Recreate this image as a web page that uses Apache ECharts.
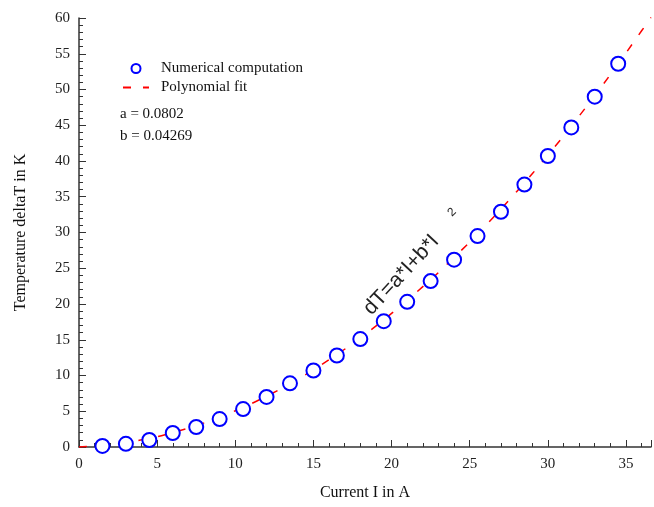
<!DOCTYPE html>
<html>
<head>
<meta charset="utf-8">
<script src="https://cdn.jsdelivr.net/npm/echarts@6/dist/echarts.min.js"></script>
<style>
  html, body { margin: 0; padding: 0; background: #fff; }
  #chart { width: 654px; height: 507px; }
</style>
</head>
<body>
<div id="chart"></div>
<script>
// measured points (numerical computation)
const current = [1.5, 3, 4.5, 6, 7.5, 9, 10.5, 12, 13.5, 15, 16.5, 18, 19.5, 21, 22.5, 24, 25.5, 27, 28.5, 30, 31.5, 33, 34.5]
const deltaT = [0.15, 0.45, 0.98, 1.96, 2.8, 3.9, 5.3, 7.0, 8.9, 10.7, 12.8, 15.1, 17.6, 20.3, 23.2, 26.2, 29.5, 32.9, 36.7, 40.7, 44.7, 49.0, 53.6]

// polynomial fit curve
const fitCurrent = [0, 2, 4, 6, 8, 10, 12, 14, 16, 18, 20, 22, 24, 26, 28, 30, 32, 34, 36, 36.6]
const fitDeltaT = [0, 0.33, 1.0, 2.02, 3.37, 5.07, 7.11, 9.49, 12.21, 15.27, 18.68, 22.43, 26.51, 30.94, 35.71, 40.83, 46.28, 52.08, 58.21, 60.1]

const xTicks = [0, 5, 10, 15, 20, 25, 30, 35]

const serif = 'Liberation Serif'

const chart = echarts.init(document.getElementById('chart'))

const option = {
  animation: false,
  backgroundColor: '#fff',
  grid: { left: 79, right: 0, top: 18, bottom: 60 },
  legend: {
    orient: 'vertical',
    left: 117,
    top: 56,
    itemWidth: 26,
    itemHeight: 9,
    itemGap: 4,
    textStyle: { fontFamily: serif, fontSize: 15, color: '#111', lineHeight: 15, padding: [0, 0, 0, 7] },
    data: [
      { name: 'Numerical computation' },
      { name: 'Polynomial fit', itemStyle: { color: 'transparent', borderWidth: 0 } }
    ]
  },
  xAxis: {
    type: 'value',
    min: 0,
    max: 36.6,
    interval: 5,
    name: 'Current I in A',
    nameLocation: 'middle',
    nameGap: 38,
    nameTextStyle: { fontFamily: serif, fontSize: 16, color: '#111' },
    axisLine: { lineStyle: { color: '#333', width: 1.5 } },
    axisTick: { inside: true, length: 7, lineStyle: { color: '#333' } },
    minorTick: { show: true, splitNumber: 5, length: 4, lineStyle: { color: '#333' } },
    splitLine: { show: false },
    axisLabel: {
      fontFamily: serif,
      fontSize: 15,
      color: '#222',
      margin: 10,
      formatter: v => (xTicks.indexOf(v) >= 0 ? String(v) : '')
    }
  },
  yAxis: {
    type: 'value',
    min: 0,
    max: 60,
    interval: 5,
    name: 'Temperature deltaT in K',
    nameLocation: 'middle',
    nameGap: 50,
    nameTextStyle: { fontFamily: serif, fontSize: 16, color: '#111' },
    axisLine: { show: true, lineStyle: { color: '#333', width: 1.5 } },
    axisTick: { show: true, inside: true, length: 7, lineStyle: { color: '#333' } },
    minorTick: { show: true, splitNumber: 5, length: 4, lineStyle: { color: '#333' } },
    splitLine: { show: false },
    axisLabel: { fontFamily: serif, fontSize: 15, color: '#222', margin: 9 }
  },
  series: [
    {
      name: 'Polynomial fit',
      type: 'line',
      data: fitCurrent.map((x, i) => [x, fitDeltaT[i]]),
      smooth: true,
      symbol: 'none',
      lineStyle: { color: '#ff0000', width: 1.5, type: [8, 12] },
      itemStyle: { color: '#ff0000' },
      z: 2
    },
    {
      name: 'Numerical computation',
      type: 'scatter',
      data: current.map((x, i) => [x, deltaT[i]]),
      symbol: 'circle',
      symbolSize: 14,
      itemStyle: { color: '#fff', borderColor: '#0000ff', borderWidth: 2, opacity: 1 },
      z: 3
    }
  ],
  graphic: [
    {
      type: 'text',
      left: 120,
      top: 107,
      style: { text: 'a = 0.0802', font: '15px "Liberation Serif"', fill: '#111' }
    },
    {
      type: 'text',
      left: 120,
      top: 129,
      style: { text: 'b = 0.04269', font: '15px "Liberation Serif"', fill: '#111' }
    },
    {
      type: 'text',
      x: 375,
      y: 319,
      rotation: Math.PI / 4 + 0.04,
      style: {
        text: 'dT=a*I+b*I',
        font: '21px "Liberation Sans"',
        fill: '#222',
        textAlign: 'left',
        textVerticalAlign: 'bottom'
      },
      z: 10
    },
    {
      type: 'text',
      x: 454,
      y: 219,
      rotation: Math.PI / 4,
      style: {
        text: '2',
        font: '12px "Liberation Sans"',
        fill: '#222',
        textAlign: 'left',
        textVerticalAlign: 'bottom'
      },
      z: 10
    }
  ]
}

chart.setOption(option)
</script>
</body>
</html>
